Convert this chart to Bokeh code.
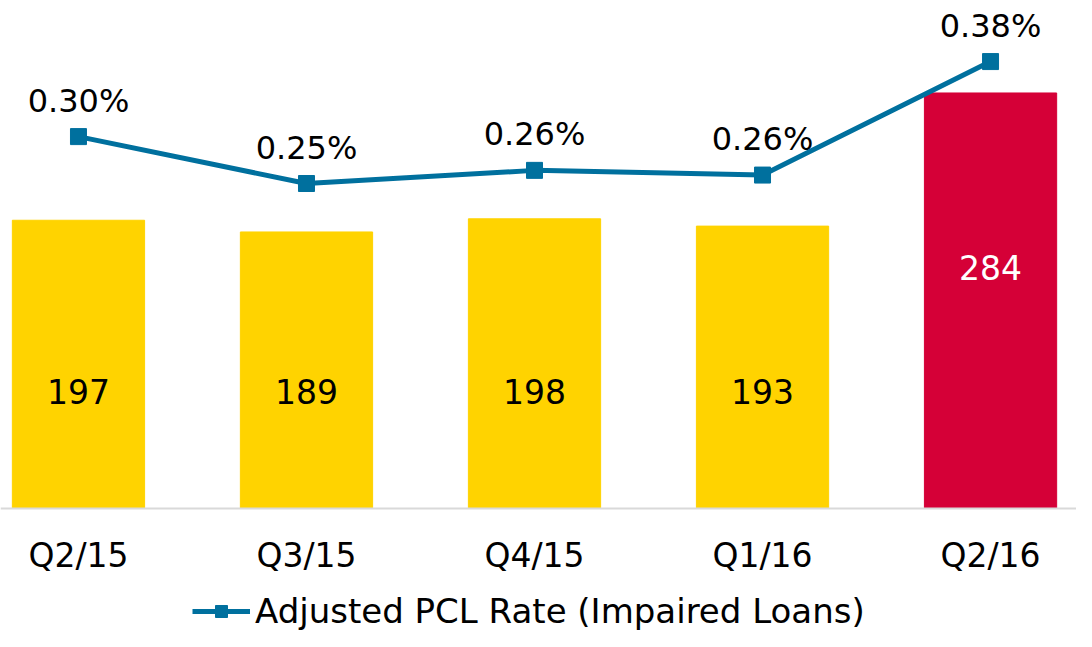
from bokeh.plotting import figure
from bokeh.models import Range1d, ColumnDataSource, Legend, LegendItem, FixedTicker
from bokeh.core.properties import value
from bokeh.embed import file_html
from bokeh.resources import INLINE

# ---- data ----
quarters = ["Q2/15", "Q3/15", "Q4/15", "Q1/16", "Q2/16"]
pcl = [197, 189, 198, 193, 284]
rate = [0.30, 0.25, 0.264, 0.259, 0.38]
rate_labels = ["0.30%", "0.25%", "0.26%", "0.26%", "0.38%"]
series_name = "Adjusted PCL Rate (Impaired Loans)"

# ---- styles ----
YELLOW = "#FFD300"
RED = "#D50037"
BLUE = "#00709E"
FONT = "DejaVu Sans"

xs = list(range(len(quarters)))
n = len(quarters)
bar_colors = [YELLOW] * (n - 1) + [RED]
label_colors = ["black"] * (n - 1) + ["white"]
label_y = [80] * (n - 1) + [165]

bars = ColumnDataSource(dict(x=xs, top=pcl, color=bar_colors,
                             text=[str(v) for v in pcl], ty=label_y, tc=label_colors))
line = ColumnDataSource(dict(x=xs, y=rate, text=rate_labels))

p = figure(width=1076, height=631,
           x_range=Range1d(-0.342, 4.377), y_range=Range1d(-84.07, 347.2),
           output_backend="svg", toolbar_location=None,
           min_border_left=0, min_border_right=0, min_border_top=0, min_border_bottom=0)
p.extra_y_ranges = {"rate": Range1d(-0.2276, 0.4451)}

p.vbar(x="x", top="top", bottom=0, width=0.58, color="color", source=bars)
p.text(x="x", y="ty", text="text", text_color="tc", source=bars,
       text_align="center", text_baseline="middle",
       text_font=value(FONT), text_font_size="33px")

lr = p.line(x="x", y="y", source=line, line_color=BLUE, line_width=5, y_range_name="rate")
sr = p.scatter(x="x", y="y", source=line, marker="square", size=16, color=BLUE, y_range_name="rate")
p.text(x="x", y="y", text="text", source=line, y_range_name="rate",
       y_offset=-36, text_align="center", text_baseline="middle",
       text_font=value(FONT), text_font_size="32px", text_color="black")

p.yaxis.visible = False
p.xgrid.visible = False
p.ygrid.visible = False
p.outline_line_color = None

ax = p.xaxis[0]
ax.fixed_location = 0
ax.ticker = FixedTicker(ticks=xs)
ax.major_label_overrides = {i: q for i, q in zip(xs, quarters)}
ax.axis_line_color = "#D9D9D9"
ax.axis_line_width = 2
ax.major_tick_line_color = None
ax.minor_tick_line_color = None
ax.major_label_text_font = FONT
ax.major_label_text_font_size = "33px"
ax.major_label_text_color = "black"
ax.major_label_standoff = 22

legend = Legend(items=[LegendItem(label=series_name, renderers=[lr, sr])],
                location=(192, 0), orientation="horizontal",
                border_line_color=None, background_fill_alpha=0,
                label_text_font=FONT, label_text_font_size="34px",
                label_text_color="black",
                glyph_width=58, glyph_height=30, label_standoff=5,
                padding=0, margin=0)
p.add_layout(legend)

open("out.html", "w").write(file_html(p, INLINE))
